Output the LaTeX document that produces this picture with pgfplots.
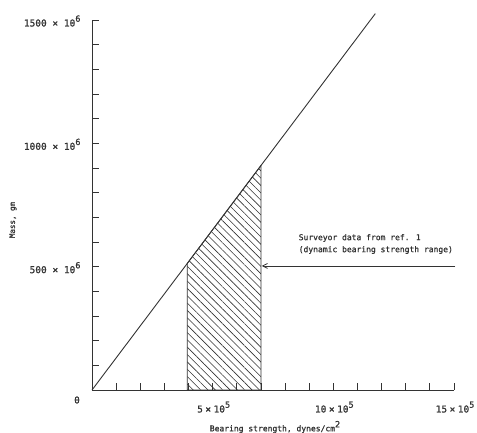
\documentclass[border=0pt]{standalone}
\usepackage{fontspec}
\setmainfont{DejaVu Sans Mono}[AutoFakeBold=1.0]
\usepackage{pgfplots}
\pgfplotsset{compat=1.18}
\usetikzlibrary{patterns.meta,arrows.meta}
\definecolor{ink}{gray}{0.2}
\newcommand\sUp[1]{\raisebox{0.5em}{\fontsize{8.5}{8.5}\selectfont #1}}
\newcommand\tX{\hspace{2.5pt}×\hspace{2.5pt}}
\begin{document}
\begin{tikzpicture}[x=1pt,y=1pt]
\begin{axis}[
  at={(92pt,42pt)}, anchor=south west,
  scale only axis, width=362pt, height=370pt,
  xmin=0, xmax=15e5, ymin=0, ymax=1500e6,
  clip=false,
  axis lines=left, axis line style={-, ink, line width=0.9pt},
  scaled x ticks=false, scaled y ticks=false,
  xtick={5e5,10e5,15e5},
  xticklabels={5\tX 10\sUp{5}, 10\tX 10\sUp{5}, 15\tX 10\sUp{5}},
  minor xtick={1e5,2e5,3e5,4e5,6e5,7e5,8e5,9e5,11e5,12e5,13e5,14e5},
  ytick={500e6,1000e6,1500e6},
  yticklabels={500 × 10\sUp{6}, 1000 × 10\sUp{6}, 1500 × 10\sUp{6}},
  minor ytick={100e6,200e6,300e6,400e6,600e6,700e6,800e6,900e6,1100e6,1200e6,1300e6,1400e6},
  tick align=inside,
  major tick length=7pt, minor tick length=7pt,
  tick style={ink, line width=0.8pt},
  every tick label/.append style={text=ink, font=\bfseries\fontsize{9.5}{10}\selectfont},
  xticklabel style={yshift=-8pt, xshift=1pt},
  yticklabel style={xshift=-8pt, yshift=-1pt},
]
\addplot[draw=ink, line width=0.8pt,
  pattern={Lines[angle=-45,distance=5.2pt,line width=0.6pt]}, pattern color=ink]
  coordinates {(3.95e5,0) (3.95e5,513.5e6) (7e5,910e6) (7e5,0)} \closedcycle;
\addplot[ink, line width=0.9pt] coordinates {(0,0) (11.74e5,1526e6)};
\addplot[ink, line width=0.8pt, -{Straight Barb[length=5pt,width=5pt]}]
  coordinates {(15.06e5,503e6) (7.03e5,503e6)};
\node[anchor=west, align=left, text=ink, font=\bfseries\fontsize{8}{12}\selectfont]
  at (axis cs:8.42e5,592e6) {Surveyor data from ref. 1\\(dynamic bearing strength range)};
\end{axis}
\node[text=ink, font=\bfseries\fontsize{9.5}{10}\selectfont] at (77pt,32pt) {0};
\node[text=ink, font=\bfseries\fontsize{8}{10}\selectfont] at (275pt,5pt) {Bearing strength, dynes/cm\sUp{2}};
\node[text=ink, rotate=90, font=\bfseries\fontsize{7.5}{8}\selectfont] at (13pt,212pt) {Mass, gm};
\pgfresetboundingbox
\path[use as bounding box] (0,0) rectangle (477pt,432pt);
\end{tikzpicture}
\end{document}
